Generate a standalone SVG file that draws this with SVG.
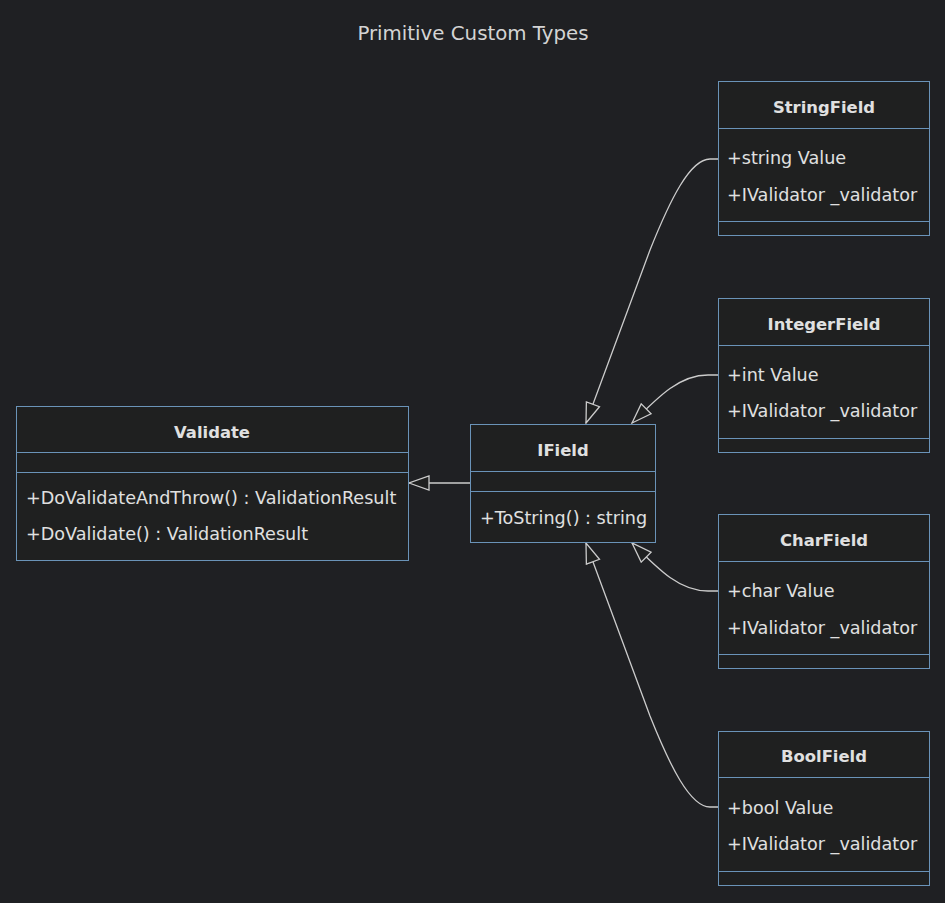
<svg xmlns="http://www.w3.org/2000/svg" width="945" height="903" viewBox="0 0 945 903">
<style>
text{font-family:"DejaVu Sans","Noto Sans",sans-serif;fill:#e0e0e0;font-size:17.6px}
.t{font-weight:bold;text-anchor:middle;font-size:16.4px}
.box{fill:#1f2020;stroke:#6a93b8;stroke-width:1}
.div{stroke:#6a93b8;stroke-width:1}
.edge{fill:none;stroke:#cccccc;stroke-width:1.3}
.title{font-size:19.8px;text-anchor:middle;fill:#d4d4d4}
</style>
<defs>
<marker id="tri" markerUnits="userSpaceOnUse" markerWidth="24" markerHeight="18" viewBox="0 0 24 18" refX="21" refY="8" orient="auto">
<path d="M21,8 L1,1 L1,15 Z" fill="#1f2020" stroke="#cccccc" stroke-width="1.3"/>
</marker>
</defs>
<rect x="0" y="0" width="945" height="903" fill="#1f2023"/>
<text class="title" x="473" y="40">Primitive Custom Types</text>
<g id="connectors">
<path class="edge" d="M470,483 L409,483" marker-end="url(#tri)"/>
<path class="edge" d="M718,159 L710,159 C690,159 670,200 650,250 L586,423" marker-end="url(#tri)"/>
<path class="edge" d="M718,375 L708,375 C680,375 660,395 632,423" marker-end="url(#tri)"/>
<path class="edge" d="M718,591 L708,591 C680,591 660,571 632,543" marker-end="url(#tri)"/>
<path class="edge" d="M718,807 L710,807 C690,807 670,766 650,716 L586,543" marker-end="url(#tri)"/>
</g>
<g id="Validate">
<rect class="box" x="16.5" y="406.5" width="392" height="154"/>
<line class="div" x1="16.5" y1="452.5" x2="408.5" y2="452.5"/>
<line class="div" x1="16.5" y1="472.5" x2="408.5" y2="472.5"/>
<text class="t" x="212" y="438">Validate</text>
<text x="26" y="504">+DoValidateAndThrow() : ValidationResult</text>
<text x="26" y="540">+DoValidate() : ValidationResult</text>
</g>
<g id="IField">
<rect class="box" x="470.5" y="424.5" width="185" height="118"/>
<line class="div" x1="470.5" y1="471.5" x2="655.5" y2="471.5"/>
<line class="div" x1="470.5" y1="491.5" x2="655.5" y2="491.5"/>
<text class="t" x="563" y="456">IField</text>
<text x="480" y="524">+ToString() : string</text>
</g>
<g id="StringField">
<rect class="box" x="718.5" y="81.5" width="211" height="154"/>
<line class="div" x1="718.5" y1="128.5" x2="929.5" y2="128.5"/>
<line class="div" x1="718.5" y1="221.5" x2="929.5" y2="221.5"/>
<text class="t" x="824" y="113">StringField</text>
<text x="727" y="164">+string Value</text>
<text x="727" y="201">+IValidator _validator</text>
</g>
<g id="IntegerField">
<rect class="box" x="718.5" y="298.5" width="211" height="154"/>
<line class="div" x1="718.5" y1="345.5" x2="929.5" y2="345.5"/>
<line class="div" x1="718.5" y1="438.5" x2="929.5" y2="438.5"/>
<text class="t" x="824" y="330">IntegerField</text>
<text x="727" y="381">+int Value</text>
<text x="727" y="417">+IValidator _validator</text>
</g>
<g id="CharField">
<rect class="box" x="718.5" y="514.5" width="211" height="154"/>
<line class="div" x1="718.5" y1="561.5" x2="929.5" y2="561.5"/>
<line class="div" x1="718.5" y1="654.5" x2="929.5" y2="654.5"/>
<text class="t" x="824" y="546">CharField</text>
<text x="727" y="597">+char Value</text>
<text x="727" y="634">+IValidator _validator</text>
</g>
<g id="BoolField">
<rect class="box" x="718.5" y="731.5" width="211" height="154"/>
<line class="div" x1="718.5" y1="777.5" x2="929.5" y2="777.5"/>
<line class="div" x1="718.5" y1="871.5" x2="929.5" y2="871.5"/>
<text class="t" x="824" y="762">BoolField</text>
<text x="727" y="814">+bool Value</text>
<text x="727" y="850">+IValidator _validator</text>
</g>
</svg>
